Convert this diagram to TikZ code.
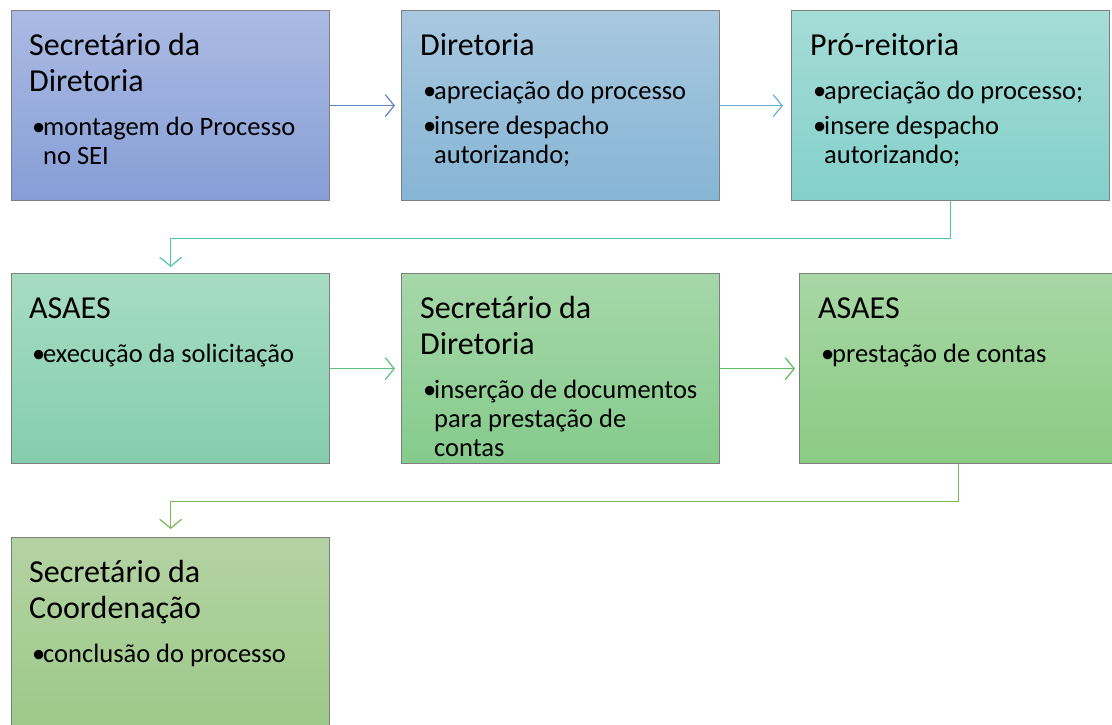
\documentclass[tikz,border=0pt]{standalone}
\usepackage{fontspec}
\setmainfont{Carlito}
\usetikzlibrary{arrows.meta, positioning}

\definecolor{boxline}{RGB}{127,127,127}
\definecolor{arrowA}{RGB}{90,132,198}
\definecolor{arrowB}{RGB}{99,176,210}
\definecolor{arrowC}{RGB}{78,196,169}
\definecolor{arrowD}{RGB}{92,192,126}
\definecolor{arrowE}{RGB}{93,189,94}
\definecolor{arrowF}{RGB}{122,184,84}

\newcommand{\steptitle}[1]{{\fontsize{32}{36}\selectfont #1\par}\vspace{15pt}}
\newcommand{\stepitem}[1]{{\fontsize{26.5}{29}\selectfont\hangindent=14pt\hangafter=1\hspace*{3pt}\makebox[11pt][l]{\textbullet}#1\par}}

\begin{document}
\begin{tikzpicture}[x=1pt, y=-1pt,
  stepbox/.style = {rectangle, draw = boxline, line width = 1.3pt, minimum width = 318pt, minimum height = 190pt, inner sep = 0pt, anchor = north west},
  steptext/.style = {anchor = base west, inner sep = 0pt},
  flow/.style = {line width = 1.2pt, -{Straight Barb[length=9pt, width=22pt, line width=1.2pt]}}]

\clip (0,0) rectangle (1112,724);

% boxes
\node (b1) at (11,10) [stepbox, top color = {rgb,255:red,171;green,186;blue,227}, bottom color = {rgb,255:red,134;green,158;blue,214}] {};
\node (b2) at (401,10) [stepbox, top color = {rgb,255:red,168;green,200;blue,223}, bottom color = {rgb,255:red,134;green,181;blue,213}] {};
\node (b3) at (791,10) [stepbox, top color = {rgb,255:red,165;green,220;blue,214}, bottom color = {rgb,255:red,132;green,208;blue,202}] {};
\node (b4) at (11,273) [stepbox, top color = {rgb,255:red,166;green,220;blue,196}, bottom color = {rgb,255:red,132;green,205;blue,174}] {};
\node (b5) at (401,273) [stepbox, top color = {rgb,255:red,166;green,215;blue,169}, bottom color = {rgb,255:red,133;green,203;blue,140}] {};
\node (b6) at (799,273) [stepbox, top color = {rgb,255:red,167;green,215;blue,164}, bottom color = {rgb,255:red,139;green,203;blue,132}] {};
\node (b7) at (11,537) [stepbox, top color = {rgb,255:red,180;green,211;blue,163}, bottom color = {rgb,255:red,157;green,201;blue,138}] {};

% texts
\node (t1) at (29,55) [steptext] {\begin{minipage}[t]{290pt}
\steptitle{Secretário da\\Diretoria}
\stepitem{montagem do Processo\\no SEI}
\end{minipage}};
\node (t2) at (420,55) [steptext] {\begin{minipage}[t]{290pt}
\steptitle{Diretoria}
\stepitem{apreciação do processo}\vspace{6pt}
\stepitem{insere despacho\\autorizando;}
\end{minipage}};
\node (t3) at (810,55) [steptext] {\begin{minipage}[t]{290pt}
\steptitle{Pró-reitoria}
\stepitem{apreciação do processo;}\vspace{6pt}
\stepitem{insere despacho\\autorizando;}
\end{minipage}};
\node (t4) at (29,318) [steptext] {\begin{minipage}[t]{290pt}
\steptitle{ASAES}
\stepitem{execução da solicitação}
\end{minipage}};
\node (t5) at (420,318) [steptext] {\begin{minipage}[t]{290pt}
\steptitle{Secretário da\\Diretoria}
\stepitem{inserção de documentos\\para prestação de\\contas}
\end{minipage}};
\node (t6) at (818,318) [steptext] {\begin{minipage}[t]{290pt}
\steptitle{ASAES}
\stepitem{prestação de contas}
\end{minipage}};
\node (t7) at (29,582) [steptext] {\begin{minipage}[t]{290pt}
\steptitle{Secretário da\\Coordenação}
\stepitem{conclusão do processo}
\end{minipage}};

% connectors
\draw [flow, draw = arrowA, shorten > = 6pt] (b1) -- (b2);
\draw [flow, draw = arrowB, shorten > = 8pt] (b2) -- (b3);
\draw [flow, draw = arrowC, shorten > = 6pt] (b3.south) -- ++(0,37) -| (b4.north);
\draw [flow, draw = arrowD, shorten > = 6pt] (b4) -- (b5);
\draw [flow, draw = arrowE, shorten > = 4pt] (b5) -- (b6);
\draw [flow, draw = arrowF, shorten > = 8pt] (b6.south) -- ++(0,37) -| (b7.north);

\end{tikzpicture}
\end{document}
